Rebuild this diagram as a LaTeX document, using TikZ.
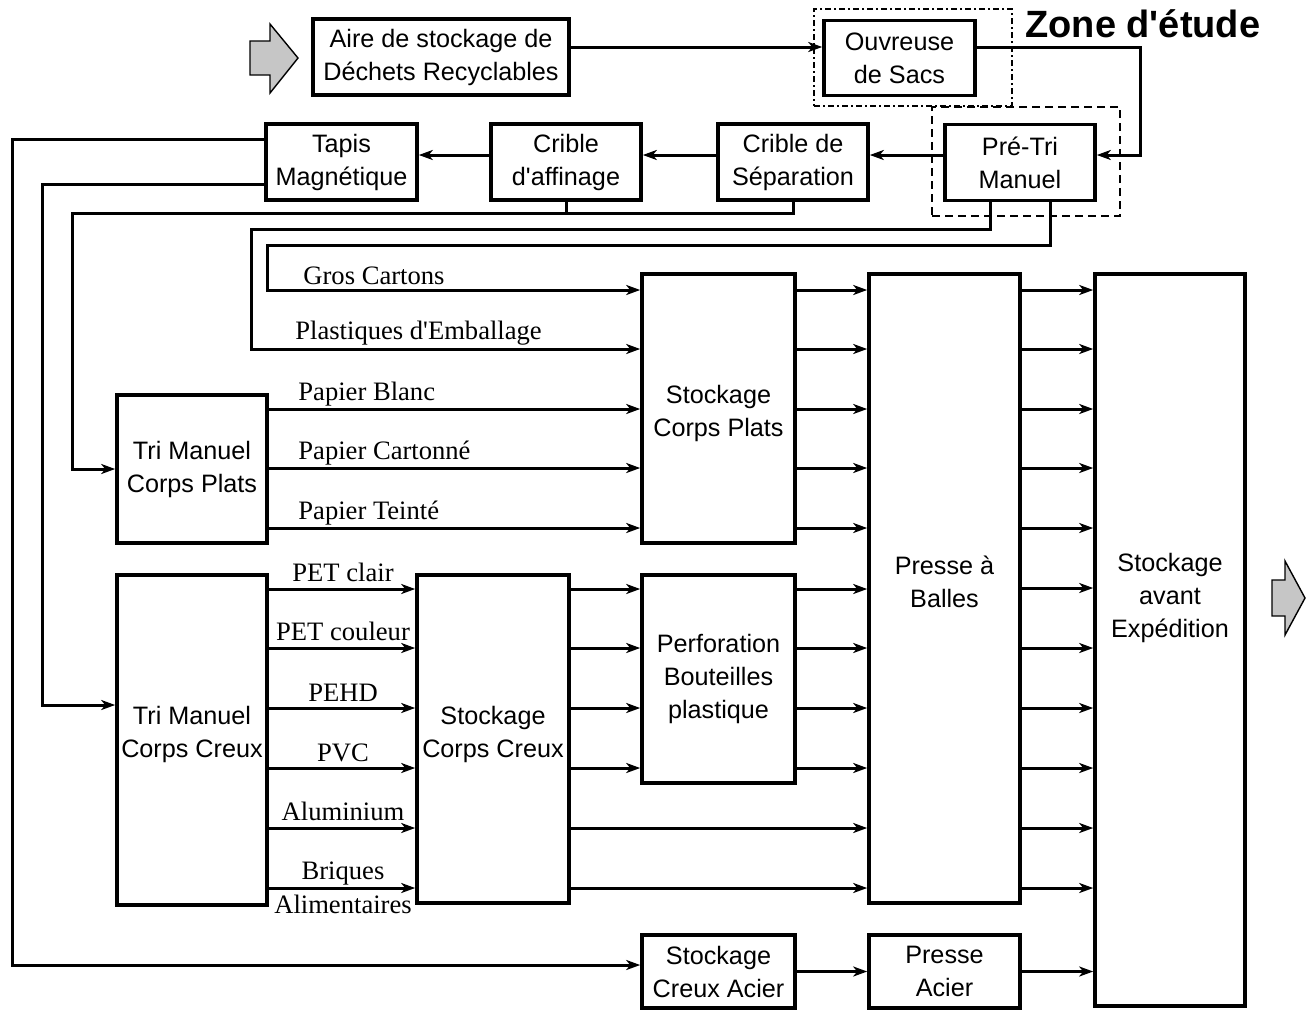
\documentclass[tikz,border=0pt]{standalone}
\usepackage{fontspec}
\setmainfont{Liberation Serif}
\setsansfont{Liberation Sans}
\usetikzlibrary{arrows.meta}
\newcommand{\bxfont}{\sffamily\fontsize{12.6}{16.5}\selectfont}
\newcommand{\lblfont}{\rmfamily\fontsize{13.3}{15}\selectfont}
\newcommand{\apos}{\textquotesingle}
\begin{document}
\begin{tikzpicture}[x=0.5pt,y=-0.5pt,
  box/.style={draw, line width=1.8pt, inner sep=0pt, font=\bxfont, align=center},
  txt/.style={inner sep=0pt, font=\bxfont, align=center},
  lbl/.style={inner sep=0pt, font=\lblfont},
  arr/.style={line width=1.5pt, -{Stealth[length=7pt,width=5pt,inset=2pt]}},
  ln/.style={line width=1.5pt},
  zonea/.style={draw, line width=0.8pt, dash pattern=on 3pt off 1.5pt on 1pt off 1.5pt, inner sep=0pt},
  zoneb/.style={draw, line width=0.8pt, dash pattern=on 4pt off 2.5pt, inner sep=0pt},
  gbig/.style={draw, line width=0.7pt, fill=gray!45}]
\useasboundingbox (0,0) rectangle (1312,1019);

% zones
\node[zonea, minimum width=99pt, minimum height=48.5pt] (zone1) at (913,57.5) {};
\node[zoneb, minimum width=94pt, minimum height=54.5pt] (zone2) at (1026,161.5) {};
\node[inner sep=0pt, anchor=base west, font=\sffamily\bfseries\fontsize{19}{22}\selectfont] (zonet) at (1025,37) {Zone d\apos étude};

% top boxes
\node[box, minimum width=128pt, minimum height=38pt] (aire) at (441,57) {Aire de stockage de\\Déchets Recyclables};
\node[box, minimum width=75.5pt, minimum height=37.5pt] (ouv) at (899.5,58) {Ouvreuse\\de Sacs};
\node[box, minimum width=75pt, minimum height=38pt] (pretri) at (1020,162.5) {Pré-Tri\\Manuel};
\node[box, minimum width=75pt, minimum height=38pt] (cribsep) at (793,162) {Crible de\\Séparation};
\node[box, minimum width=75pt, minimum height=38pt] (cribaff) at (566,162) {Crible\\d\apos affinage};
\node[box, minimum width=75.5pt, minimum height=38pt] (tapis) at (341.5,162) {Tapis\\Magnétique};

% big boxes
\node[box, minimum width=76.5pt, minimum height=134.5pt] (scp) at (718.5,408.5) {};
\node[txt] (scpt) at (718.5,413.5) {Stockage\\Corps Plats};
\node[box, minimum width=75.5pt, minimum height=314.5pt] (presse) at (944.5,588.5) {};
\node[txt] (presset) at (944.5,581.5) {Presse à\\Balles};
\node[box, minimum width=75pt, minimum height=366pt] (sae) at (1170,640) {};
\node[txt] (saet) at (1170,598) {Stockage\\avant\\Expédition};
\node[box, minimum width=75pt, minimum height=74pt] (tmcp) at (192,469) {Tri Manuel\\Corps Plats};
\node[box, minimum width=75pt, minimum height=165pt] (tmcc) at (192,740) {};
\node[txt] (tmcct) at (192,734.5) {Tri Manuel\\Corps Creux};
\node[box, minimum width=76pt, minimum height=164pt] (scc) at (493,739) {};
\node[txt] (scct) at (493,734.5) {Stockage\\Corps Creux};
\node[box, minimum width=76.5pt, minimum height=104pt] (perf) at (718.5,679) {Perforation\\Bouteilles\\plastique};
\node[box, minimum width=76.5pt, minimum height=36.5pt] (sca) at (718.5,971.5) {Stockage\\Creux Acier};
\node[box, minimum width=75.5pt, minimum height=36.5pt] (pacier) at (944.5,971.5) {Presse\\Acier};

% gray block arrows
\draw[gbig] (250,41) -- (270,41) -- (270,24) -- (298,58) -- (270,93) -- (270,75) -- (250,75) -- cycle;
\draw[gbig] (1272,580) -- (1285,580) -- (1285,561) -- (1305,598) -- (1285,635) -- (1285,616) -- (1272,616) -- cycle;

% top chain
\draw[arr] (aire.east |- 0,47) -- (ouv.west |- 0,47);
\draw[arr] (ouv.east |- 0,47) -| (1140,155) -- (pretri.east |- 0,155);
\draw[arr] (pretri.west |- 0,155) -- (cribsep.east |- 0,155);
\draw[arr] (cribsep.west |- 0,155) -- (cribaff.east |- 0,155);
\draw[arr] (cribaff.west |- 0,155) -- (tapis.east |- 0,155);

% return lines
\draw[arr] (tapis.west |- 0,139) -| (12,965) -- (sca.west |- 0,965);
\draw[arr] (tapis.west |- 0,184) -| (42,705) -- (tmcc.west |- 0,705);
\draw[ln] (cribaff.south) -- (cribaff.south |- 0,213);
\draw[arr] (cribsep.south) |- (72,213) |- (tmcp.west);
\draw[arr] (pretri.south -| 990,0) |- (251,229) |- (scp.west |- 0,349);
\draw[arr] (pretri.south -| 1050,0) |- (267,245) |- (scp.west |- 0,290);

% flows
\foreach \y in {409,468,528} \draw[arr] (tmcp.east |- 0,\y) -- (scp.west |- 0,\y);
\foreach \y in {290,349,409,468,528} \draw[arr] (scp.east |- 0,\y) -- (presse.west |- 0,\y);
\foreach \y in {589,648,708,768,828,888} \draw[arr] (tmcc.east |- 0,\y) -- (scc.west |- 0,\y);
\foreach \y in {589,648,708,768} {
  \draw[arr] (scc.east |- 0,\y) -- (perf.west |- 0,\y);
  \draw[arr] (perf.east |- 0,\y) -- (presse.west |- 0,\y);
}
\foreach \y in {828,888} \draw[arr] (scc.east |- 0,\y) -- (presse.west |- 0,\y);
\foreach \y in {290,349,409,468,528,588,648,708,768,828,888} \draw[arr] (presse.east |- 0,\y) -- (sae.west |- 0,\y);
\draw[arr] (sca) -- (pacier);
\draw[arr] (pacier.east) -- (sae.west |- pacier.east);

% labels
\node[lbl, anchor=base west] (l1) at (303,284) {Gros Cartons};
\node[lbl, anchor=base west] (l2) at (295,339) {Plastiques d\apos Emballage};
\node[lbl, anchor=base west] (l3) at (298,400) {Papier Blanc};
\node[lbl, anchor=base west] (l4) at (298,459) {Papier Cartonné};
\node[lbl, anchor=base west] (l5) at (298,519) {Papier Teinté};
\node[lbl, anchor=base] (l6) at (343,581) {PET clair};
\node[lbl, anchor=base] (l7) at (343,640) {PET couleur};
\node[lbl, anchor=base] (l8) at (343,701) {PEHD};
\node[lbl, anchor=base] (l9) at (343,761) {PVC};
\node[lbl, anchor=base] (l10) at (343,820) {Aluminium};
\node[lbl, anchor=base] (l11) at (343,879) {Briques};
\node[lbl, anchor=base] (l12) at (343,913) {Alimentaires};
\end{tikzpicture}
\end{document}
